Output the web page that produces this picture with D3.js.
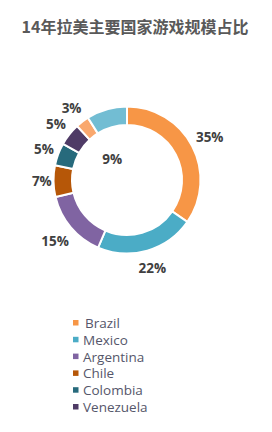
<!DOCTYPE html>
<html><head><meta charset="utf-8">
<script src="https://cdn.jsdelivr.net/npm/d3@7/dist/d3.min.js"></script>
<style>
html,body{margin:0;padding:0;background:#fff;}
svg{display:block;}
</style></head>
<body>
<script>
const title = "14年拉美主要国家游戏规模占比";
const categories = ["Brazil","Mexico","Argentina","Chile","Colombia","Venezuela","Other1","Other2"];
const values = [35,22,15,7,5,5,3,9];
const labels = ["35%","22%","15%","7%","5%","5%","3%","9%"];
const colors = ["#F79646","#4BACC6","#8064A2","#B65708","#276A7C","#4F3B66","#F9A86E","#72BDD3"];
const legendItems = ["Brazil","Mexico","Argentina","Chile","Colombia","Venezuela"];

const W = 272, H = 432;
const svg = d3.select("body").append("svg").attr("width", W).attr("height", H);

svg.append("text").attr("x", 135).attr("y", 33).attr("text-anchor","middle")
  .attr("font-family","'Noto Sans CJK SC', sans-serif").attr("font-weight","bold")
  .attr("font-size", 16).attr("fill","#595959").text(title);

const cx = 127, cy = 180, R = 73.5, r = 55;
const g = svg.append("g").attr("transform", `translate(${cx},${cy})`);
const pie = d3.pie().sort(null).value(d => d);
const arcs = pie(values);
const arc = d3.arc().innerRadius(r).outerRadius(R);

g.selectAll("path").data(arcs).enter().append("path")
  .attr("d", arc).attr("fill", (d,i) => colors[i])
  .attr("stroke","#fff").attr("stroke-width", 2);

// labels: outside end, last slice label falls inside the hole (best-fit)
g.selectAll("text.lbl").data(arcs).enter().append("text")
  .attr("class","lbl")
  .attr("font-family","'Open Sans', sans-serif").attr("font-weight","bold")
  .attr("font-size", 13.5).attr("fill","#404040")
  .attr("text-anchor","middle").attr("dominant-baseline","central")
  .attr("transform", (d,i) => {
    const a = (d.startAngle + d.endAngle) / 2;
    let rr, ang = a;
    if (i === arcs.length - 1) { rr = 26; ang = a - 0.33; }
    else {
      const w = labels[i].length * 8.5;
      rr = R + 3 + Math.abs(Math.sin(a)) * w / 2 + Math.abs(Math.cos(a)) * 12;
    }
    return `translate(${Math.sin(ang) * rr},${-Math.cos(ang) * rr})`;
  })
  .text((d,i) => labels[i]);

// legend
const ly = d3.scalePoint().domain(legendItems).range([323, 407]);
const lg = svg.append("g");
legendItems.forEach((name, i) => {
  const y = ly(name);
  lg.append("rect").attr("x", 73).attr("y", y - 3).attr("width", 5.5).attr("height", 5.5)
    .attr("fill", colors[i]);
  lg.append("text").attr("x", i === 0 ? 85 : 83).attr("y", y)
    .attr("dominant-baseline","central")
    .attr("font-family","'Open Sans', sans-serif").attr("font-size", 13.5)
    .attr("fill","#55566a").text(name);
});
</script>
</body></html>
